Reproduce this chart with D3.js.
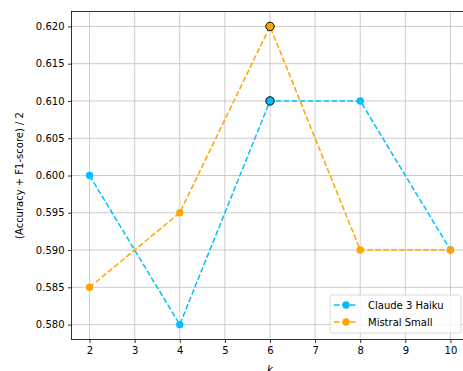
<!DOCTYPE html>
<html>
<head>
<meta charset="utf-8">
<script src="https://cdn.jsdelivr.net/npm/d3@7"></script>
<style>
  body { margin: 0; background: #fff; }
  svg { font-family: "DejaVu Sans", sans-serif; }
</style>
</head>
<body>
<svg width="463" height="371"></svg>
<script>
// données
let ks = [2, 4, 6, 8, 10];
let claude = [0.600, 0.580, 0.610, 0.610, 0.590];
let mistral = [0.585, 0.595, 0.620, 0.590, 0.590];
let xTicks = [2, 3, 4, 5, 6, 7, 8, 9, 10];
let yTicks = [0.580, 0.585, 0.590, 0.595, 0.600, 0.605, 0.610, 0.615, 0.620];

let series = [
    {name: "Claude 3 Haiku", color: "#00bfff", values: claude},
    {name: "Mistral Small", color: "#ffa500", values: mistral}
];

let svg = d3.select("svg");

// zone du graphique (la droite dépasse de l'image comme dans l'original)
let zLeft = 71.5, zRight = 468.5, zTop = 11.5, zBottom = 339.5;

let x = d3.scaleLinear().domain([1.6, 10.4]).range([zLeft, zRight]);
let y = d3.scaleLinear().domain([0.578, 0.622]).range([zBottom, zTop]);

// grille
svg.append("g")
    .selectAll("line")
    .data(xTicks)
    .join("line")
    .attr("x1", d => x(d)).attr("x2", d => x(d))
    .attr("y1", zTop).attr("y2", zBottom)
    .attr("stroke", "#c0c0c0").attr("stroke-width", 0.8);

svg.append("g")
    .selectAll("line")
    .data(yTicks)
    .join("line")
    .attr("x1", zLeft).attr("x2", zRight)
    .attr("y1", d => y(d)).attr("y2", d => y(d))
    .attr("stroke", "#c0c0c0").attr("stroke-width", 0.8);

// axes
let xAxis = svg.append("g")
    .attr("transform", `translate(0,${zBottom})`)
    .call(d3.axisBottom(x).tickValues(xTicks).tickFormat(d3.format("d")).tickSizeOuter(0).tickSize(3.5).tickPadding(3.5));

let yAxis = svg.append("g")
    .attr("transform", `translate(${zLeft},0)`)
    .call(d3.axisLeft(y).tickValues(yTicks).tickFormat(d3.format(".3f")).tickSizeOuter(0).tickSize(3.5).tickPadding(3.5));

[xAxis, yAxis].forEach(a => {
    a.select(".domain").remove();
    a.selectAll("text").attr("font-size", 10).attr("fill", "#000").attr("font-family", "DejaVu Sans");
    a.selectAll("line").attr("stroke", "#000").attr("stroke-width", 0.8);
});

// cadre
svg.append("rect")
    .attr("x", zLeft).attr("y", zTop)
    .attr("width", zRight - zLeft).attr("height", zBottom - zTop)
    .attr("fill", "none").attr("stroke", "#000").attr("stroke-width", 0.8);

// libellés
svg.append("text")
    .attr("transform", `translate(20,${(zTop + zBottom) / 2}) rotate(-90)`)
    .attr("text-anchor", "middle")
    .attr("dominant-baseline", "middle")
    .attr("font-size", 10)
    .text("(Accuracy + F1-score) / 2");

svg.append("text")
    .attr("x", x(6)).attr("y", 373)
    .attr("text-anchor", "middle")
    .attr("font-size", 10)
    .attr("font-style", "italic")
    .text("k");

// courbes
let line = d3.line()
    .x((d, i) => x(ks[i]))
    .y(d => y(d));

series.forEach(s => {
    svg.append("path")
        .attr("d", line(s.values))
        .attr("fill", "none")
        .attr("stroke", s.color)
        .attr("stroke-width", 1.5)
        .attr("stroke-dasharray", "5.55,2.4");

    svg.append("g")
        .selectAll("circle")
        .data(s.values)
        .join("circle")
        .attr("cx", (d, i) => x(ks[i]))
        .attr("cy", d => y(d))
        .attr("r", 3.7)
        .attr("fill", s.color);
});

// maximum de chaque série, avec contour noir
series.forEach(s => {
    let m = d3.max(s.values);
    let i = s.values.indexOf(m);
    svg.append("circle")
        .attr("cx", x(ks[i]))
        .attr("cy", y(m))
        .attr("r", 4.2)
        .attr("fill", s.color)
        .attr("stroke", "#000")
        .attr("stroke-width", 1);
});

// légende
let leg = svg.append("g").attr("transform", "translate(330,295)");
leg.append("rect")
    .attr("width", 131).attr("height", 38)
    .attr("rx", 2)
    .attr("fill", "#fff").attr("fill-opacity", 0.8)
    .attr("stroke", "#d0d0d0").attr("stroke-width", 0.8);

series.forEach((s, i) => {
    let yy = 10 + i * 17;
    leg.append("line")
        .attr("x1", 4).attr("x2", 28)
        .attr("y1", yy).attr("y2", yy)
        .attr("stroke", s.color).attr("stroke-width", 1.5)
        .attr("stroke-dasharray", "5.55,2.4");
    leg.append("circle")
        .attr("cx", 16).attr("cy", yy).attr("r", 3.7)
        .attr("fill", s.color);
    leg.append("text")
        .attr("x", 38).attr("y", yy)
        .attr("dominant-baseline", "central")
        .attr("font-size", 10)
        .text(s.name);
});
</script>
</body>
</html>
